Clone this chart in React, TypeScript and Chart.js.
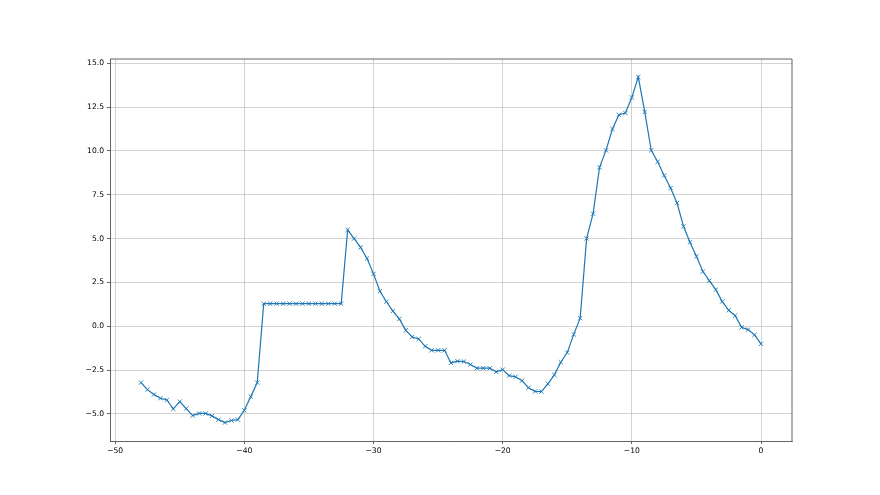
import React, { useEffect, useRef } from "react";
import { Chart, registerables } from "chart.js";

Chart.register(...registerables);

const xValues: number[] = [
  -48, -47.5, -47, -46.5, -46, -45.5, -45, -44.5, -44, -43.5, -43, -42.5, -42, -41.5, -41, -40.5, -40, -39.5, -39,
  -38.5, -38, -37.5, -37, -36.5, -36, -35.5, -35, -34.5, -34, -33.5, -33, -32.5,
  -32, -31.5, -31, -30.5, -30, -29.5, -29, -28.5,
  -28, -27.5, -27, -26.5, -26, -25.5, -25, -24.5, -24, -23.5, -23, -22.5, -22, -21.5, -21, -20.5, -20,
  -19.5, -19, -18.5, -18, -17.5, -17, -16.5, -16, -15.5, -15, -14.5, -14, -13.5, -13, -12.5, -12,
  -11.5, -11, -10.5, -10, -9.5, -9, -8.5, -8, -7.5, -7, -6.5, -6, -5.5, -5, -4.5, -4, -3.5, -3,
  -2.5, -2, -1.5, -1, -0.5, 0,
];

const yValues: number[] = [
  -3.21, -3.61, -3.89, -4.1, -4.2, -4.71, -4.29, -4.69, -5.09, -4.97, -4.97, -5.11, -5.32, -5.49, -5.37, -5.32, -4.79, -4.01, -3.21,
  1.29, 1.29, 1.29, 1.29, 1.29, 1.29, 1.29, 1.29, 1.29, 1.29, 1.29, 1.29, 1.29,
  5.5, 5.0, 4.5, 3.87, 2.99, 2.0, 1.4, 0.87,
  0.42, -0.23, -0.61, -0.72, -1.14, -1.37, -1.37, -1.37, -2.09, -1.99, -2.01, -2.18, -2.39, -2.39, -2.39, -2.6, -2.47,
  -2.81, -2.88, -3.1, -3.5, -3.71, -3.72, -3.28, -2.77, -2.05, -1.5, -0.46, 0.46, 5.01, 6.42, 9.06, 10.03,
  11.25, 12.06, 12.16, 13.05, 14.21, 12.22, 10.03, 9.38, 8.6, 7.88, 7.03, 5.7, 4.79, 3.99, 3.12, 2.6, 2.09, 1.41,
  0.91, 0.61, -0.06, -0.19, -0.49, -1.0,
];

const xTicks: number[] = [-50, -40, -30, -20, -10, 0];
const yTicks: number[] = [-5, -2.5, 0, 2.5, 5, 7.5, 10, 12.5, 15];

const fmtX = (v: number) => (v < 0 ? "\u2212" : "") + String(Math.abs(v));
const fmtY = (v: number) => (v < 0 ? "\u2212" : "") + Math.abs(v).toFixed(1);

const FONT = { family: "'DejaVu Sans', sans-serif", size: 7.6 };

const framePlugin = {
  id: "frame",
  afterDraw(chart: any) {
    const { ctx, chartArea } = chart;
    const { left, right, top, bottom } = chartArea;
    ctx.save();
    ctx.strokeStyle = "#222";
    ctx.lineWidth = 0.7;
    ctx.beginPath();
    ctx.moveTo(left, top);
    ctx.lineTo(right, top);
    ctx.lineTo(right, bottom);
    ctx.stroke();
    ctx.restore();
  },
};

export default function App() {
  const ref = useRef<HTMLCanvasElement | null>(null);

  useEffect(() => {
    document.body.style.margin = "0";
    const canvas = ref.current;
    if (!canvas) return;
    const data = xValues.map((x, i) => ({ x, y: yValues[i] }));
    const chart = new Chart(canvas, {
      type: "line",
      data: {
        datasets: [
          {
            data,
            borderColor: "#1f77b4",
            backgroundColor: "#1f77b4",
            borderWidth: 1.2,
            pointStyle: "crossRot",
            pointRadius: 3,
            pointBorderWidth: 0.9,
            pointBorderColor: "#1f77b4",
            pointBackgroundColor: "#1f77b4",
            tension: 0,
          },
        ],
      },
      options: {
        animation: false,
        responsive: false,
        maintainAspectRatio: false,
        layout: { padding: { top: 59, right: 88, left: 0, bottom: 0 } },
        plugins: { legend: { display: false }, tooltip: { enabled: false } },
        scales: {
          x: {
            type: "linear",
            min: -50.4,
            max: 2.4,
            afterBuildTicks: (scale: any) => {
              scale.ticks = xTicks.map((v) => ({ value: v }));
            },
            afterFit: (scale: any) => {
              scale.height = 54;
            },
            ticks: {
              callback: (v: any) => fmtX(Number(v)),
              color: "#000",
              font: FONT,
              padding: 2,
              maxRotation: 0,
              autoSkip: false,
            },
            grid: {
              color: "#c0c0c0",
              lineWidth: 0.7,
              drawTicks: true,
              tickLength: 3,
              tickColor: "#222",
            },
            border: { display: true, color: "#222", width: 0.7 },
          },
          y: {
            type: "linear",
            min: -6.54,
            max: 15.24,
            afterBuildTicks: (scale: any) => {
              scale.ticks = yTicks.map((v) => ({ value: v }));
            },
            afterFit: (scale: any) => {
              scale.width = 110;
            },
            ticks: {
              callback: (v: any) => fmtY(Number(v)),
              color: "#000",
              font: FONT,
              padding: 3,
              autoSkip: false,
            },
            grid: {
              color: "#c0c0c0",
              lineWidth: 0.7,
              drawTicks: true,
              tickLength: 3,
              tickColor: "#222",
            },
            border: { display: true, color: "#222", width: 0.7 },
          },
        },
      },
      plugins: [framePlugin],
    } as any);
    return () => chart.destroy();
  }, []);

  return (
    <div style={{ width: 880, height: 495, background: "#fff" }}>
      <canvas ref={ref} width={880} height={495} style={{ display: "block" }} />
    </div>
  );
}
